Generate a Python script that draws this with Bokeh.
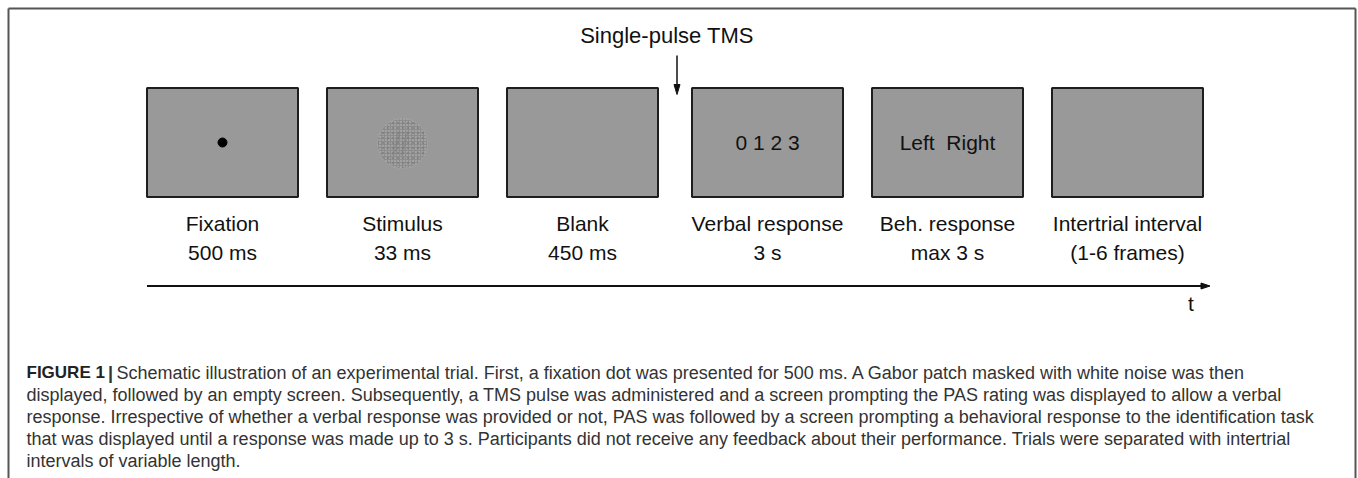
from bokeh.plotting import figure
from bokeh.models import Range1d, ColumnDataSource
from bokeh.core.properties import value
from bokeh.embed import file_html
from bokeh.resources import INLINE

# ---------------- data ----------------
stages = ["Fixation", "Stimulus", "Blank", "Verbal response", "Beh. response", "Intertrial interval"]
durations = ["500 ms", "33 ms", "450 ms", "3 s", "max 3 s", "(1-6 frames)"]
screen_text = ["", "", "", "0 1 2 3", "Left\u00a0\u00a0Right", ""]
tms_label = "Single-pulse TMS"
tms_after_stage = 2          # pulse delivered between stage 2 and stage 3
time_label = "t"

caption_bold = "FIGURE 1"
caption_sep = "|"
caption_lines = [
    "Schematic illustration of an experimental trial. First, a fixation dot was presented for 500 ms. A Gabor patch masked with white noise was then",
    "displayed, followed by an empty screen. Subsequently, a TMS pulse was administered and a screen prompting the PAS rating was displayed to allow a verbal",
    "response. Irrespective of whether a verbal response was provided or not, PAS was followed by a screen prompting a behavioral response to the identification task",
    "that was displayed until a response was made up to 3 s. Participants did not receive any feedback about their performance. Trials were separated with intertrial",
    "intervals of variable length.",
]

# ---------------- layout ----------------
W, H = 1358, 478
FONT = value("Liberation Sans")
BOX_W, BOX_H = 151, 109
BOX_Y = 142
STEP = 180
X0 = 222
TMS_GAP = 5

xs = [X0 + STEP * i + (TMS_GAP if i > tms_after_stage else 0) for i in range(len(stages))]

p = figure(width=W, height=H, x_range=Range1d(0, W), y_range=Range1d(H, 0),
           output_backend="svg", toolbar_location=None,
           x_axis_location=None, y_axis_location=None, min_border=0)
p.grid.visible = False
p.outline_line_color = None
p.background_fill_color = "white"
p.border_fill_color = "white"

# outer frame (top, left, right)
FL, FT, FR = 8, 8, 1355
p.line([FL, FL], [H, FT], line_color="#555555", line_width=2)
p.line([FL, FR], [FT, FT], line_color="#555555", line_width=2)
p.line([FR, FR], [FT, H], line_color="#555555", line_width=2)

# screens
src = ColumnDataSource(dict(x=xs, y=[BOX_Y] * len(xs), stage=stages, dur=durations, txt=screen_text))
p.rect(x="x", y="y", width=BOX_W, height=BOX_H, source=src,
       fill_color="#999999", line_color="#1e1e1e", line_width=2)

# fixation dot
p.scatter([xs[0]], [BOX_Y], size=9, marker="circle", fill_color="black", line_color="black")

# stimulus: noise-masked Gabor patch
p.circle([xs[1]], [BOX_Y + 1], radius=25, fill_color="#8c8c8c", line_color=None,
         hatch_pattern="dot", hatch_color="#c2c2c2", hatch_scale=3, hatch_weight=1.3)
p.circle([xs[1]], [BOX_Y + 1], radius=25, fill_color=None, line_color=None,
         hatch_pattern="dot", hatch_color="#777777", hatch_scale=5, hatch_weight=1.2, hatch_alpha=0.6)
p.circle([xs[1]], [BOX_Y + 1], radius=25, fill_color=None, line_color="#a8a8a8", line_width=1, line_alpha=0.6)
for dx in (-6, 2):
    p.line([xs[1] + dx - 3, xs[1] + dx + 3], [BOX_Y + 13, BOX_Y - 11], line_color="#7a7a7a",
           line_width=3, line_alpha=0.35)

# screen texts
p.text(x="x", y="y", text="txt", source=src, text_font=FONT, text_font_size="21px",
       text_align="center", text_baseline="middle", text_color="#111111")

# stage labels
p.text(x="x", y=223, text="stage", source=src, text_font=FONT, text_font_size="21px",
       text_align="center", text_baseline="middle", text_color="#111111")
p.text(x="x", y=252, text="dur", source=src, text_font=FONT, text_font_size="21px",
       text_align="center", text_baseline="middle", text_color="#111111")

# TMS pulse arrow
tms_x = (xs[tms_after_stage] + xs[tms_after_stage + 1]) / 2 + 2
p.text([tms_x - 10], [35], text=[tms_label], text_font=FONT, text_font_size="22px",
       text_align="center", text_baseline="middle", text_color="#111111")
p.line([tms_x, tms_x], [55, 86], line_color="#111111", line_width=1.5)
p.patch([tms_x - 3, tms_x + 3, tms_x], [84, 84, 94], fill_color="#111111", line_color="#111111", line_width=1)

# time axis
t_y = 285.5
t_start = xs[0] - BOX_W / 2
t_end = xs[-1] + BOX_W / 2 + 7
p.line([t_start, t_end - 6], [t_y, t_y], line_color="#111111", line_width=2)
p.patch([t_end - 9, t_end, t_end - 9], [t_y - 3, t_y, t_y + 3], fill_color="#111111", line_color="#111111", line_width=1)
p.text([t_end - 19], [303], text=[time_label], text_font=FONT, text_font_size="21px",
       text_align="center", text_baseline="middle", text_color="#111111")

# caption
cap_x = 26
cap_y = [372 + 22 * i for i in range(len(caption_lines))]
p.text([cap_x], [cap_y[0]], text=[caption_bold], text_font=FONT, text_font_size="17px",
       text_font_style="bold", text_align="left", text_baseline="middle", text_color="#222222")
p.text([110], [cap_y[0]], text=[caption_sep], text_font=FONT, text_font_size="18px",
       text_font_style="bold", text_align="center", text_baseline="middle", text_color="#333333")
p.text([116] + [cap_x] * (len(caption_lines) - 1), cap_y, text=caption_lines, text_font=FONT,
       text_font_size="18px", text_align="left", text_baseline="middle", text_color="#333333")

open("out.html", "w").write(file_html(p, INLINE))
